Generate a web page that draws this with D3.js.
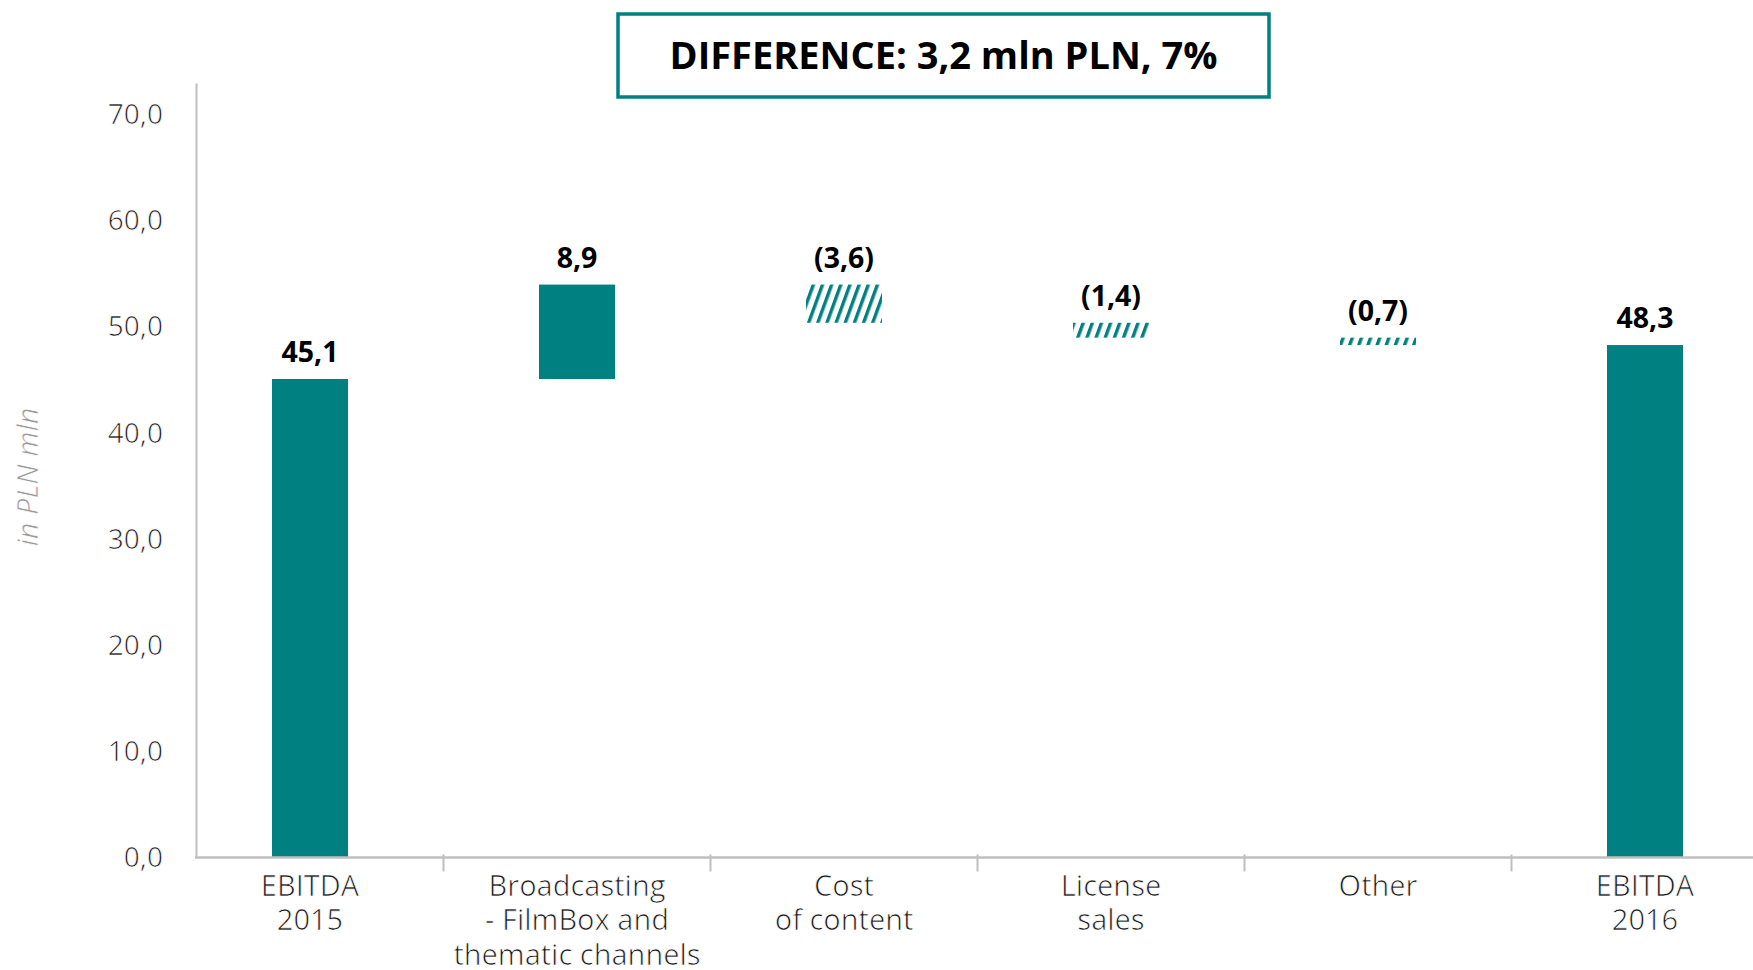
<!DOCTYPE html>
<html>
<head>
<meta charset="utf-8">
<script src="https://cdn.jsdelivr.net/npm/d3@7"></script>
<style>
  html, body { margin: 0; padding: 0; background: #fff; }
  svg { display: block; font-family: "Open Sans", "Noto Sans", sans-serif; }
  .light { stroke: #fff; stroke-width: 0.7px; paint-order: normal; }
</style>
</head>
<body>
<svg id="chart" width="1753" height="970"></svg>
<script>
// EBITDA bridge 2015 -> 2016, PLN mln
const categories = ["EBITDA 2015", "Broadcasting", "Cost of content", "License sales", "Other", "EBITDA 2016"];
const categoryLines = [
  ["EBITDA", "2015"],
  ["Broadcasting", "- FilmBox and", "thematic channels"],
  ["Cost", "of content"],
  ["License", "sales"],
  ["Other"],
  ["EBITDA", "2016"]
];
const values = [45.1, 8.9, -3.6, -1.4, -0.7, 48.3];
const kinds = ["total", "delta", "delta", "delta", "delta", "total"];
const valueLabels = ["45,1", "8,9", "(3,6)", "(1,4)", "(0,7)", "48,3"];
const yTicks = [0, 10, 20, 30, 40, 50, 60, 70];
const titleText = "DIFFERENCE: 3,2 mln PLN, 7%";
const axisTitle = "in PLN mln";

const TEAL = "#008080";
const AXIS = "#bfbfbf";
const FONT = '"Open Sans", "Noto Sans", sans-serif';

const svg = d3.select("#chart");
const W = 1753, H = 970;
const margin = { left: 196, right: 0, top: 83, bottom: 112.5 };

// waterfall segments: totals start at zero, deltas float on the running sum
let running = 0;
const bars = values.map((v, i) => {
  let y0, y1;
  if (kinds[i] === "total") { y0 = 0; y1 = v; running = v; }
  else { y0 = running; y1 = running + v; running = y1; }
  return { cat: categories[i], v, lo: Math.min(y0, y1), hi: Math.max(y0, y1), neg: v < 0, label: valueLabels[i] };
});

const x = d3.scalePoint().domain(categories).range([310, 1645]);
const barW = 76;
const y = d3.scaleLinear().domain([0, 73]).range([H - margin.bottom, margin.top]);

// hatch for decreases
const defs = svg.append("defs");
defs.append("pattern")
  .attr("id", "hatch")
  .attr("patternUnits", "userSpaceOnUse")
  .attr("width", 8.6).attr("height", 10)
  .attr("patternTransform", "rotate(20)")
  .append("rect")
  .attr("x", 0).attr("y", 0).attr("width", 3.4).attr("height", 10)
  .attr("fill", TEAL);

// y axis
const yAxis = svg.append("g")
  .attr("transform", `translate(${margin.left},0)`)
  .call(d3.axisLeft(y).tickValues(yTicks).tickSize(0).tickPadding(33)
    .tickFormat(d => d3.format(".1f")(d).replace(".", ",")));
yAxis.attr("font-family", FONT);
yAxis.select(".domain").attr("stroke", AXIS).attr("stroke-width", 2);
yAxis.selectAll(".tick text")
  .attr("class", "light")
  .attr("fill", "#1a1a1a")
  .style("font-size", "28px");

// axis title
svg.append("text")
  .attr("class", "light")
  .attr("transform", `translate(38,477) rotate(-90)`)
  .attr("text-anchor", "middle")
  .attr("fill", "#9a9a9a")
  .style("font-size", "29px")
  .style("font-style", "italic")
  .text(axisTitle);

// bars
const gBars = svg.append("g");
gBars.selectAll("rect.bar")
  .data(bars)
  .join("rect")
  .attr("class", "bar")
  .attr("x", d => x(d.cat) - barW / 2)
  .attr("width", barW)
  .attr("y", d => y(d.hi))
  .attr("height", d => y(d.lo) - y(d.hi))
  .attr("fill", d => d.neg ? "url(#hatch)" : TEAL);

// value labels
gBars.selectAll("text.val")
  .data(bars)
  .join("text")
  .attr("class", "val")
  .attr("x", d => x(d.cat))
  .attr("y", d => y(d.hi) - 17)
  .attr("text-anchor", "middle")
  .attr("fill", "#000")
  .style("font-size", "28.5px")
  .style("font-weight", 700)
  .text(d => d.label);

// x axis baseline with separators between categories
const y0 = y(0);
svg.append("line")
  .attr("x1", margin.left - 1).attr("x2", W)
  .attr("y1", y0).attr("y2", y0)
  .attr("stroke", AXIS).attr("stroke-width", 2.5);
const seps = d3.pairs(categories).map(([a, b]) => (x(a) + x(b)) / 2);
svg.append("g").selectAll("line")
  .data(seps)
  .join("line")
  .attr("x1", d => d).attr("x2", d => d)
  .attr("y1", y0 - 3).attr("y2", y0 + 14)
  .attr("stroke", AXIS).attr("stroke-width", 2);

// category labels
const gCat = svg.append("g");
gCat.selectAll("text")
  .data(categories)
  .join("text")
  .attr("class", "light")
  .attr("x", d => x(d))
  .attr("y", y0 + 38)
  .attr("text-anchor", "middle")
  .attr("fill", "#1a1a1a")
  .style("font-size", "29px")
  .each(function (d, i) {
    d3.select(this).selectAll("tspan")
      .data(categoryLines[i])
      .join("tspan")
      .attr("x", x(d))
      .attr("dy", (t, j) => j === 0 ? 0 : 34.5)
      .text(t => t);
  });

// headline box
const box = { x: 618, y: 14, w: 651, h: 83 };
svg.append("rect")
  .attr("x", box.x).attr("y", box.y)
  .attr("width", box.w).attr("height", box.h)
  .attr("fill", "#fff")
  .attr("stroke", TEAL).attr("stroke-width", 3.5);
svg.append("text")
  .attr("x", box.x + box.w / 2)
  .attr("y", box.y + box.h / 2 + 13)
  .attr("text-anchor", "middle")
  .attr("fill", "#000")
  .style("font-size", "38px")
  .style("font-weight", 700)
  .text(titleText);
</script>
</body>
</html>
